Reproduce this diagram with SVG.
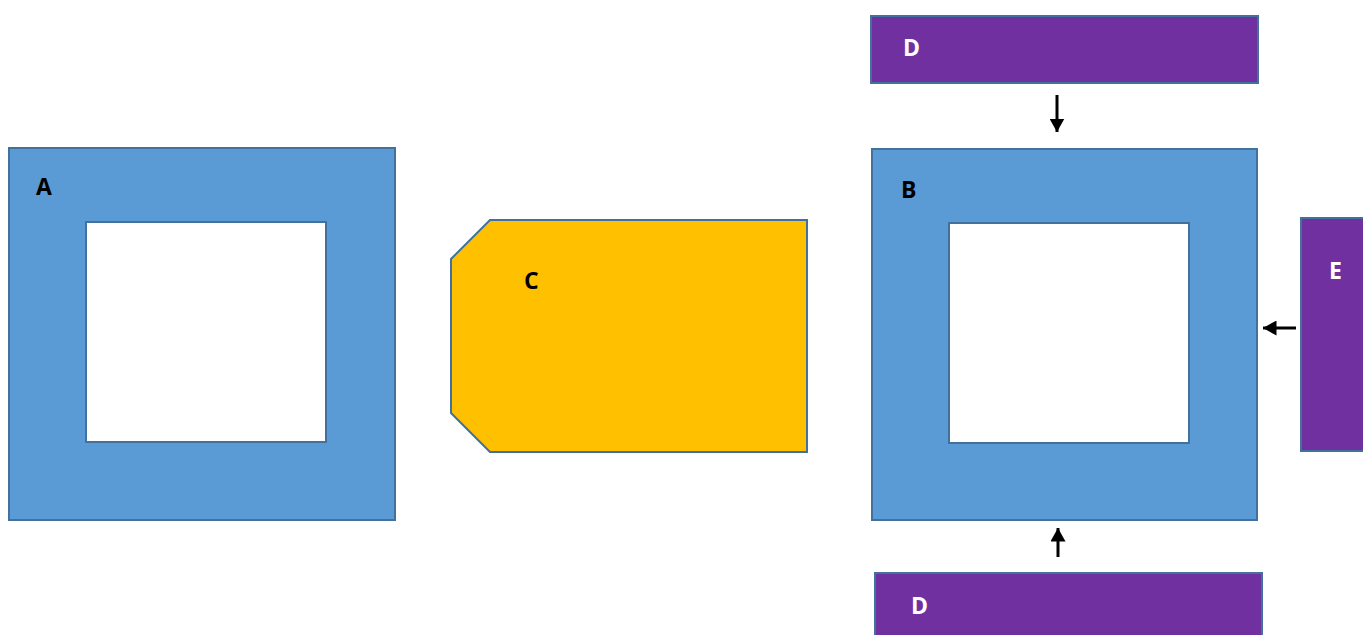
<svg xmlns="http://www.w3.org/2000/svg" width="1363" height="635" viewBox="0 0 1363 635">
<style>
.frame{fill:#5b9bd5;stroke:#41719c;stroke-width:2;fill-rule:evenodd}
.hole{fill:#ffffff;stroke:#41719c;stroke-width:2}
.gold{fill:#ffc000;stroke:#41719c;stroke-width:2}
.purp{fill:#7030a0;stroke:#41719c;stroke-width:2}
.lbl{font-family:"Open Sans","Liberation Sans",sans-serif;font-weight:bold;font-size:23px;fill:#000}
.wl{fill:#ffffff}
.con{stroke:#000;stroke-width:3;fill:none;marker-end:url(#ah)}
</style>
<defs>
<marker id="ah" markerWidth="5" markerHeight="5" refX="4.5" refY="2.5" orient="auto" markerUnits="strokeWidth">
<path d="M0,0 L4.5,2.5 L0,5 z" fill="#000"/>
</marker>
</defs>
<rect width="1363" height="635" fill="#ffffff"/>
<g id="nodeA">
<rect class="frame" x="9" y="148" width="386" height="372"/>
<rect class="hole" x="86" y="222" width="240" height="220"/>
<text class="lbl" x="36" y="195">A</text>
</g>
<g id="nodeC">
<polygon class="gold" points="490,220 807,220 807,452 490,452 451,413 451,259"/>
<text class="lbl" x="524" y="289">C</text>
</g>
<g id="nodeB">
<rect class="frame" x="872" y="149" width="385" height="371"/>
<rect class="hole" x="949" y="223" width="240" height="220"/>
<text class="lbl" x="901" y="198">B</text>
</g>
<g id="nodeD1">
<rect class="purp" x="871" y="16" width="387" height="67"/>
<text class="lbl wl" x="903" y="56">D</text>
</g>
<g id="nodeD2">
<rect class="purp" x="875" y="573" width="387" height="70"/>
<text class="lbl wl" x="911" y="614">D</text>
</g>
<g id="nodeE">
<rect class="purp" x="1301" y="218" width="70" height="233"/>
<text class="lbl wl" x="1329" y="279">E</text>
</g>
<g id="connectors">
<line class="con" x1="1057" y1="95" x2="1057" y2="132"/>
<line class="con" x1="1058" y1="557" x2="1058" y2="528"/>
<line class="con" x1="1296" y1="328" x2="1263" y2="328"/>
</g>
</svg>
